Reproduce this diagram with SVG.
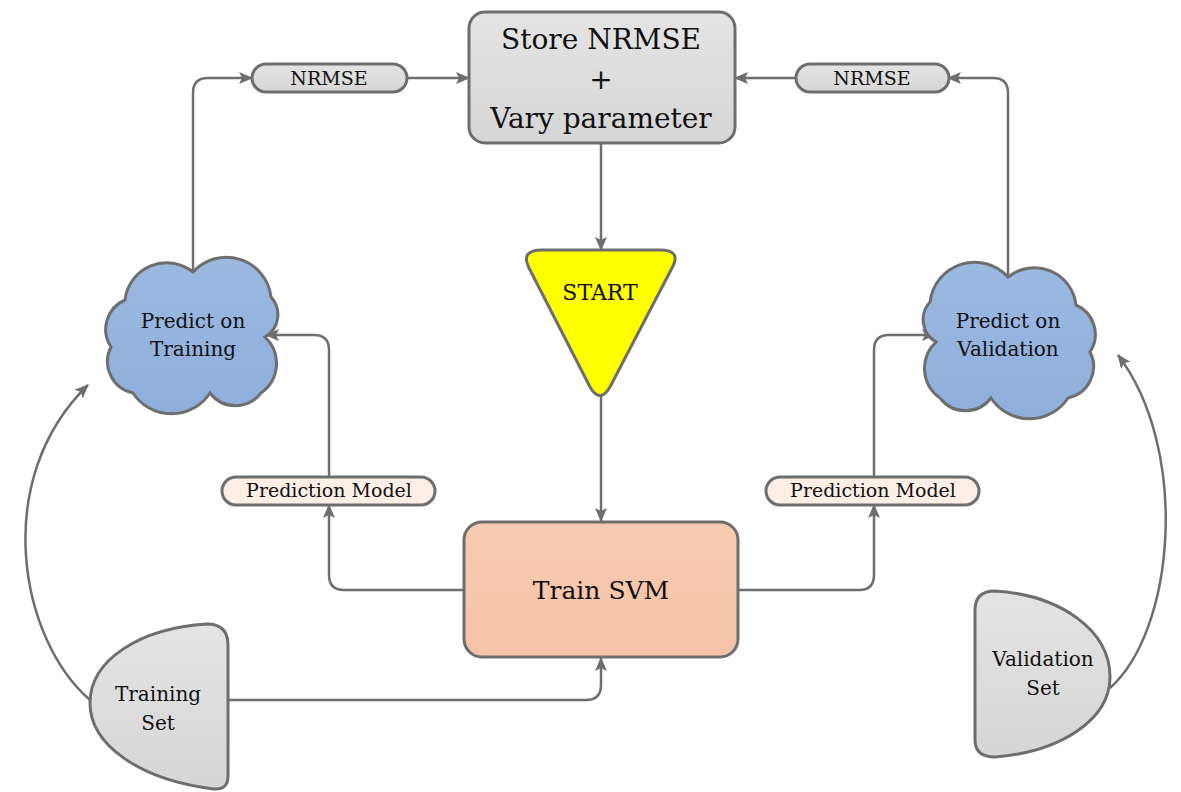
<svg xmlns="http://www.w3.org/2000/svg" width="1181" height="792" viewBox="0 0 1181 792">
<style>
  .ln{fill:none;stroke:#6e6e6e;stroke-width:2.5}
  .sh{stroke:#6e6e6e;stroke-width:3}
  .tx{font-family:"DejaVu Serif","Liberation Serif",serif;fill:#111;text-anchor:middle}
</style>
<defs>
  <marker id="ah" markerUnits="userSpaceOnUse" markerWidth="14" markerHeight="12" viewBox="0 0 14 12" refX="13" refY="6" orient="auto">
    <path d="M0,0 L14,6 L0,12 L3,6 z" fill="#6e6e6e"/>
  </marker>
  <linearGradient id="gGray" x1="0" y1="0" x2="0" y2="1"><stop offset="0" stop-color="#e4e4e4"/><stop offset="1" stop-color="#d6d6d6"/></linearGradient>
  <linearGradient id="gBlue" x1="0" y1="0" x2="0" y2="1"><stop offset="0" stop-color="#9bb9e1"/><stop offset="1" stop-color="#8eafdc"/></linearGradient>
  <linearGradient id="gPeach" x1="0" y1="0" x2="0" y2="1"><stop offset="0" stop-color="#f8cbb1"/><stop offset="1" stop-color="#f5c3a7"/></linearGradient>
  <path id="cloud" d="M 0 -63 A 45 45 0 0 1 78 -38 A 26 26 0 0 1 72 2 A 36 36 0 0 1 68 58 A 32 32 0 0 1 17 58 A 46 46 0 0 1 -60 58 A 32 32 0 0 1 -82 12 A 32 32 0 0 1 -68 -35 A 42 42 0 0 1 0 -63 Z"/>
</defs>
<rect width="1181" height="792" fill="#ffffff"/>

<g id="connectors">
  <path class="ln" marker-end="url(#ah)" d="M 193 272 L 193 93 Q 193 78 208 78 L 252 78"/>
  <path class="ln" marker-end="url(#ah)" d="M 407 78 L 469 78"/>
  <path class="ln" marker-end="url(#ah)" d="M 1008 277 L 1008 93 Q 1008 78 993 78 L 948 78"/>
  <path class="ln" marker-end="url(#ah)" d="M 797 78 L 735 78"/>
  <path class="ln" marker-end="url(#ah)" d="M 601 143 L 601 250"/>
  <path class="ln" marker-end="url(#ah)" d="M 601 395 L 601 521"/>
  <path class="ln" marker-end="url(#ah)" d="M 464 590 L 344 590 Q 329 590 329 575 L 329 505"/>
  <path class="ln" marker-end="url(#ah)" d="M 329 476 L 329 350 Q 329 335 314 335 L 266 335"/>
  <path class="ln" marker-end="url(#ah)" d="M 738 590 L 859 590 Q 874 590 874 575 L 874 505"/>
  <path class="ln" marker-end="url(#ah)" d="M 874 476 L 874 350 Q 874 335 889 335 L 935 335"/>
  <path class="ln" marker-end="url(#ah)" d="M 228 700 L 586 700 Q 601 700 601 685 L 601 658"/>
  <path class="ln" marker-end="url(#ah)" d="M 90 700 C 20 640 -10 480 88 385"/>
  <path class="ln" marker-end="url(#ah)" d="M 1110 688 C 1175 630 1190 450 1118 355"/>
</g>

<g id="store">
  <rect class="sh" x="469" y="12" width="266" height="131" rx="16" fill="url(#gGray)"/>
  <text class="tx" x="601" y="49" font-size="28">Store NRMSE</text>
  <text class="tx" x="601" y="89" font-size="28">+</text>
  <text class="tx" x="601" y="128" font-size="28">Vary parameter</text>
</g>

<g id="nrmse-left">
  <rect class="sh" x="252" y="64" width="155" height="28" rx="14" fill="url(#gGray)"/>
  <text class="tx" x="329" y="85" font-size="19">NRMSE</text>
</g>

<g id="nrmse-right">
  <rect class="sh" x="796" y="64" width="153" height="28" rx="14" fill="url(#gGray)"/>
  <text class="tx" x="872" y="85" font-size="19">NRMSE</text>
</g>

<g id="start">
  <path class="sh" fill="#ffff00" d="M 542 250 L 660 250 Q 682 250 672 268 L 610 387 Q 600 404 590 387 L 529 268 Q 520 250 542 250 Z"/>
  <text class="tx" x="600" y="300" font-size="22">START</text>
</g>

<g id="train-svm">
  <rect class="sh" x="464" y="522" width="274" height="135" rx="18" fill="url(#gPeach)"/>
  <text class="tx" x="601" y="599" font-size="25">Train SVM</text>
</g>

<g id="pm-left">
  <rect class="sh" x="222" y="477" width="213" height="28" rx="14" fill="#fdeee6"/>
  <text class="tx" x="329" y="497" font-size="19">Prediction Model</text>
</g>

<g id="pm-right">
  <rect class="sh" x="766" y="477" width="213" height="28" rx="14" fill="#fdeee6"/>
  <text class="tx" x="873" y="497" font-size="19">Prediction Model</text>
</g>

<g id="predict-training">
  <use href="#cloud" class="sh" fill="url(#gBlue)" transform="translate(193,335)"/>
  <text class="tx" x="193" y="328" font-size="20">Predict on</text>
  <text class="tx" x="193" y="356" font-size="20">Training</text>
</g>

<g id="predict-validation">
  <use href="#cloud" class="sh" fill="url(#gBlue)" transform="translate(1008,340) scale(-1,1)"/>
  <text class="tx" x="1008" y="328" font-size="20">Predict on</text>
  <text class="tx" x="1008" y="356" font-size="20">Validation</text>
</g>

<g id="training-set">
  <path class="sh" fill="url(#gGray)" d="M 207 624 Q 228 624 228 645 L 228 776 Q 228 790 214 789 C 140 780 90 745 90 703 C 90 660 140 628 207 624 Z"/>
  <text class="tx" x="158" y="701" font-size="20">Training</text>
  <text class="tx" x="158" y="730" font-size="20">Set</text>
</g>

<g id="validation-set">
  <path class="sh" fill="url(#gGray)" d="M 995 591 C 1060 595 1110 630 1110 677 C 1110 720 1060 752 995 757 Q 975 757 975 740 L 975 610 Q 975 591 995 591 Z"/>
  <text class="tx" x="1043" y="666" font-size="20">Validation</text>
  <text class="tx" x="1043" y="695" font-size="20">Set</text>
</g>
</svg>
